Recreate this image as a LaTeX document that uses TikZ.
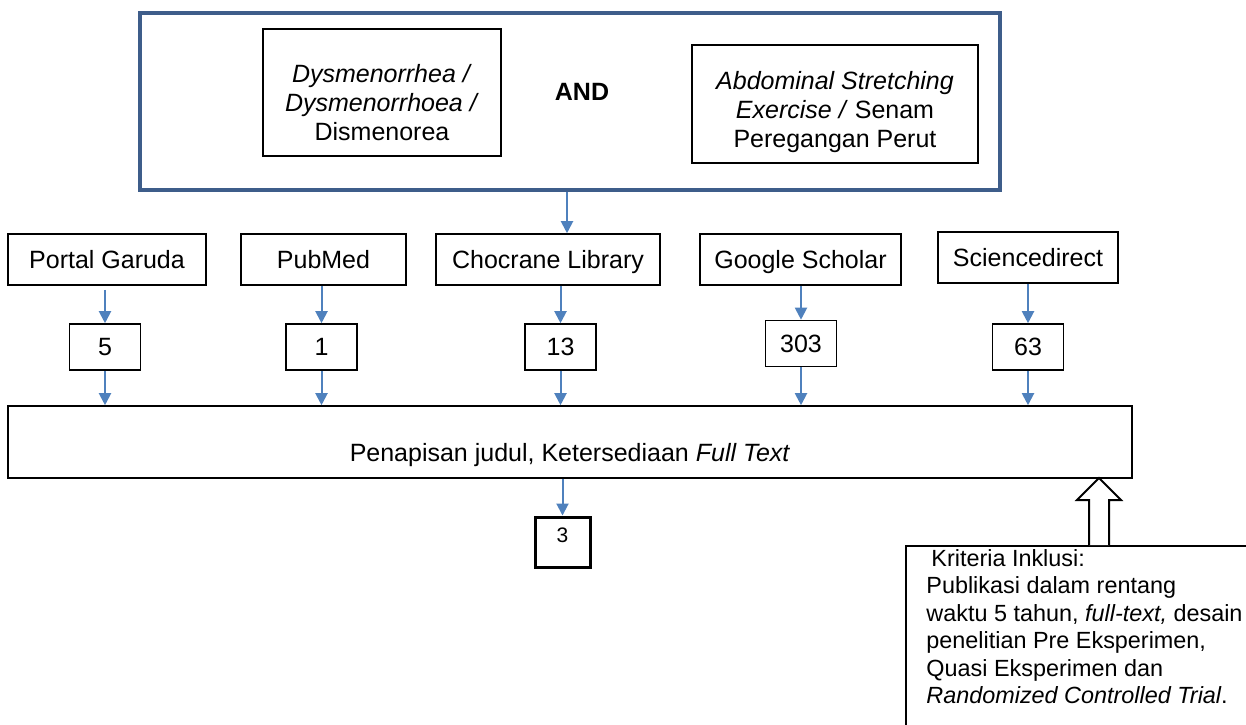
\documentclass[tikz,border=0pt]{standalone}
\usepackage{fontspec}
\setmainfont{Liberation Sans}
\usetikzlibrary{arrows.meta}
\definecolor{frameblue}{RGB}{62,93,138}
\definecolor{arrowblue}{RGB}{79,129,189}

\begin{document}
\begin{tikzpicture}[x=0.5pt,y=-0.5pt,
  box/.style={rectangle,draw,line width=0.8pt,inner sep=0pt,align=center,font=\fontsize{12.5}{14.5}\selectfont},
  flow/.style={-{Triangle[width=6pt,length=6pt]},draw=arrowblue,line width=1pt},
  hollow/.style={draw,line width=1pt,fill=white}]
\useasboundingbox (0,0) rectangle (1246,724);

% Keywords
\node[rectangle,draw=frameblue,line width=2pt,minimum width=430pt,minimum height=88.5pt] at (570,101.5) (key) {};
\node[box,minimum width=119pt,minimum height=63.5pt] at (382,92.5) (kw1) {\rule{0pt}{19.5pt}\textit{Dysmenorrhea /}\\\textit{Dysmenorrhoea /}\\Dismenorea};
\node[font=\fontsize{12.5}{14.5}\selectfont\bfseries] at (582,92) (and) {AND};
\node[box,minimum width=143pt,minimum height=59pt] at (835,104) (kw2) {\rule{0pt}{17.5pt}\textit{Abdominal Stretching}\\\textit{Exercise /} Senam\\Peregangan Perut};

% Databases
\node[box,text depth=0pt,minimum width=99pt,minimum height=25.5pt] at (107,259.5) (db1) {Portal Garuda};
\node[box,text depth=0pt,minimum width=82.5pt,minimum height=25.5pt] at (323.5,259.5) (db2) {PubMed};
\node[box,text depth=0pt,minimum width=112pt,minimum height=25.5pt] at (548,259.5) (db3) {Chocrane Library};
\node[box,text depth=0pt,minimum width=100.5pt,minimum height=25.5pt] at (800.5,259.5) (db4) {Google Scholar};
\node[box,text depth=0pt,minimum width=90pt,minimum height=25.5pt] at (1028,257.5) (db5) {Sciencedirect};

\draw[flow] ([xshift=-1.5pt]key.south) -- ([xshift=-1.5pt]key.south |- db3.north);

% Hits
\node[box,minimum width=35.5pt,minimum height=23pt] at (105,347) (n1) {5};
\node[box,minimum width=35.5pt,minimum height=23pt] at (321.5,347) (n2) {1};
\node[box,minimum width=35.5pt,minimum height=23pt] at (560.5,347) (n3) {13};
\node[box,minimum width=35.5pt,minimum height=23pt] at (801,343.5) (n4) {303};
\node[box,minimum width=35.5pt,minimum height=23pt] at (1028,347) (n5) {63};

\draw[flow] ([yshift=-2pt]n1.north |- db1.south) -- (n1.north);
\draw[flow] (n2.north |- db2.south) -- (n2.north);
\draw[flow] (n3.north |- db3.south) -- (n3.north);
\draw[flow] (n4.north |- db4.south) -- (n4.north);
\draw[flow] (n5.north |- db5.south) -- (n5.north);

% Screening
\node[box,minimum width=562pt,minimum height=36pt] at (570,442) (scr) {};
\node[font=\fontsize{12.5}{14.5}\selectfont] at ([yshift=-6.5pt]scr.center) (scrtxt) {Penapisan judul, Ketersediaan \textit{Full Text}};

\draw[flow] (n1.south) -- (n1.south |- scr.north);
\draw[flow] (n2.south) -- (n2.south |- scr.north);
\draw[flow] (n3.south) -- (n3.south |- scr.north);
\draw[flow] (n4.south) -- (n4.south |- scr.north);
\draw[flow] (n5.south) -- (n5.south |- scr.north);

% Result
\node[rectangle,draw,line width=1.5pt,minimum width=27.5pt,minimum height=25pt,text depth=6.5pt,font=\fontsize{10.5}{12}\selectfont] at (562.5,542) (res) {3};
\draw[flow] (res.north |- scr.south) -- (res.north);

% Inclusion criteria
\node[rectangle,draw,line width=0.8pt,anchor=north west,minimum width=250pt,minimum height=150pt] at (905,545) (crit) {};
\node[anchor=north west,align=left,inner sep=0pt,font=\fontsize{11.7}{13.75}\selectfont] at (926,549) (crittxt) {\hspace{2.5pt}Kriteria Inklusi:\\Publikasi dalam rentang\\waktu 5 tahun, \textit{full-text,} desain\\penelitian Pre Eksperimen,\\Quasi Eksperimen dan\\\textit{Randomized Controlled Trial}.};

\coordinate (tip) at (1099,478);
\draw[hollow] ([xshift=-5pt]tip |- crit.north) -- ++(0,-45) -- ++(-12,0) -- (tip) -- ++(22,22) -- ++(-12,0) -- ++(0,45);

\end{tikzpicture}
\end{document}
